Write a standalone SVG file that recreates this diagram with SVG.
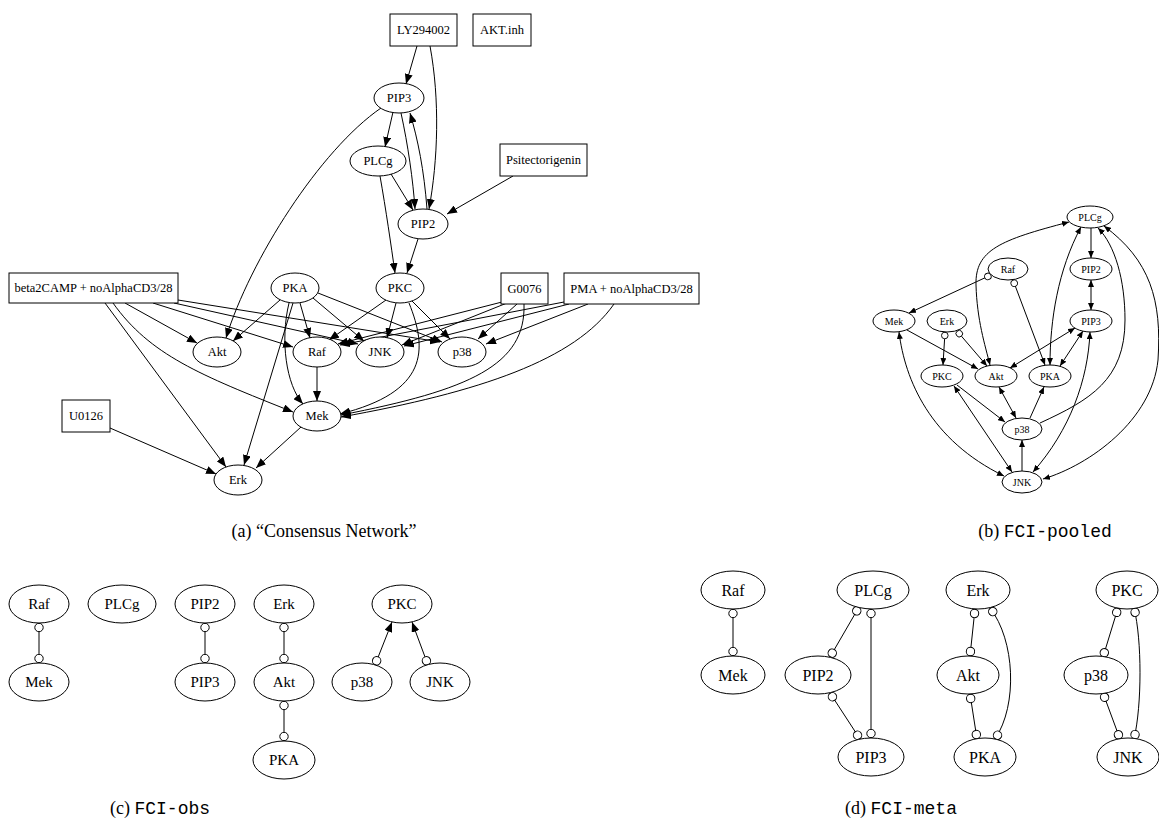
<svg xmlns="http://www.w3.org/2000/svg" width="1159" height="822" viewBox="0 0 1159 822">
<style>
.n ellipse, .n rect { fill: #fff; stroke: #000; stroke-width: 1; }
.e path { fill: none; stroke: #000; stroke-width: 1; }
text { font-family: "Liberation Serif", "Times New Roman", serif; fill: #000; }
.ta text { font-size: 12.5px; text-anchor: middle; dominant-baseline: central; }
.tb text { font-size: 10px; text-anchor: middle; dominant-baseline: central; }
.tc text { font-size: 15px; text-anchor: middle; dominant-baseline: central; }
.td text { font-size: 16px; text-anchor: middle; dominant-baseline: central; }
.cap { font-size: 18px; text-anchor: middle; }
.mono { font-family: "Liberation Mono", "Courier New", monospace; }
.ea path { marker-end: url(#arA); }
.eb path.d1 { marker-end: url(#arB); }
.eb path.d2 { marker-end: url(#arB); marker-start: url(#arB); }
.eb path.oa { marker-start: url(#ocB); marker-end: url(#arB); }
.oo path { marker-start: url(#ocC); marker-end: url(#ocC); }
.oa path { marker-start: url(#ocC); marker-end: url(#arC); }
</style>
<defs>
<marker id="arA" markerUnits="userSpaceOnUse" markerWidth="10" markerHeight="8" viewBox="0 0 10 8" refX="10" refY="4" orient="auto"><path d="M0,0 L10,4 L0,8 z" fill="#000"/></marker>
<marker id="arB" markerUnits="userSpaceOnUse" markerWidth="7" markerHeight="6" viewBox="0 0 7 6" refX="7" refY="3" orient="auto-start-reverse"><path d="M0,0 L7,3 L0,6 z" fill="#000"/></marker>
<marker id="ocB" markerUnits="userSpaceOnUse" markerWidth="8" markerHeight="8" viewBox="0 0 8 8" refX="7.5" refY="4" orient="auto-start-reverse"><circle cx="4" cy="4" r="3.3" fill="#fff" stroke="#000" stroke-width="0.9"/></marker>
<marker id="ocC" markerUnits="userSpaceOnUse" markerWidth="10" markerHeight="10" viewBox="0 0 10 10" refX="9.5" refY="5" orient="auto-start-reverse"><circle cx="5" cy="5" r="4.2" fill="#fff" stroke="#000" stroke-width="1"/></marker>
<marker id="arC" markerUnits="userSpaceOnUse" markerWidth="10" markerHeight="8" viewBox="0 0 10 8" refX="10" refY="4" orient="auto"><path d="M0,0 L10,4 L0,8 z" fill="#000"/></marker>
</defs>

<!-- Panel (a) connectors -->
<g id="edges-a" class="e ea">
<path d="M417 46 L406 84"/>
<path d="M430 46 C440 100 438 160 429 209"/>
<path d="M393 112 L385 147"/>
<path d="M401 113 C408 145 413 180 415 209"/>
<path d="M427 209 C424 170 418 140 410 113"/>
<path d="M391 174 L413 210"/>
<path d="M513 176 L447 214"/>
<path d="M381 108 C320 150 250 260 226 338"/>
<path d="M380 176 C386 210 391 245 395 273"/>
<path d="M418 239 L407 273"/>
<path d="M386 300 L329 340"/>
<path d="M396 303 L387 338"/>
<path d="M412 301 L450 339"/>
<path d="M409 303 C428 350 428 392 340 414"/>
<path d="M280 300 L233 341"/>
<path d="M300 303 L310 338"/>
<path d="M289 303 C280 340 286 385 303 404"/>
<path d="M293 303 L244 465"/>
<path d="M313 298 L364 341"/>
<path d="M318 293 L442 342"/>
<path d="M317 367 L317 401"/>
<path d="M301 427 L256 468"/>
<path d="M110 428 L216 474"/>
<path d="M105 303 L226 467"/>
<path d="M113 303 C150 355 200 375 293 412"/>
<path d="M125 303 L197 343"/>
<path d="M153 303 L293 347"/>
<path d="M174 303 L358 344"/>
<path d="M178 300 L440 342"/>
<path d="M502 302 L338 344"/>
<path d="M507 303 L402 345"/>
<path d="M517 304 L478 339"/>
<path d="M524 304 C526 365 470 390 341 415"/>
<path d="M564 302 L340 345"/>
<path d="M569 304 L404 346"/>
<path d="M588 304 L486 344"/>
<path d="M614 304 C575 360 480 392 341 417"/>
</g>

<!-- Panel (a) nodes -->
<g class="n ta">
<g id="a-LY294002"><rect x="390" y="14" width="67" height="32"/><text x="423.5" y="30">LY294002</text></g>
<g id="a-AKTinh"><rect x="473" y="14" width="58" height="32"/><text x="502" y="30">AKT.inh</text></g>
<g id="a-Psitectorigenin"><rect x="500" y="144" width="87" height="32"/><text x="543.5" y="160">Psitectorigenin</text></g>
<g id="a-beta2CAMP"><rect x="9" y="273" width="169" height="30"/><text x="93.5" y="288">beta2CAMP + noAlphaCD3/28</text></g>
<g id="a-G0076"><rect x="501" y="273" width="47" height="31"/><text x="524.5" y="288.5">G0076</text></g>
<g id="a-PMA"><rect x="564" y="273" width="135" height="31"/><text x="631.5" y="288.5">PMA + noAlphaCD3/28</text></g>
<g id="a-U0126"><rect x="62" y="400" width="48" height="32"/><text x="86" y="416">U0126</text></g>
<g id="a-PIP3"><ellipse cx="399" cy="98" rx="25" ry="15"/><text x="399" y="98">PIP3</text></g>
<g id="a-PLCg"><ellipse cx="378" cy="161" rx="28" ry="15"/><text x="378" y="161">PLCg</text></g>
<g id="a-PIP2"><ellipse cx="423" cy="224" rx="25" ry="15"/><text x="423" y="224">PIP2</text></g>
<g id="a-PKA"><ellipse cx="295" cy="288" rx="24" ry="15"/><text x="295" y="288">PKA</text></g>
<g id="a-PKC"><ellipse cx="400" cy="288" rx="24" ry="15"/><text x="400" y="288">PKC</text></g>
<g id="a-Akt"><ellipse cx="217" cy="352" rx="24" ry="15"/><text x="217" y="352">Akt</text></g>
<g id="a-Raf"><ellipse cx="317" cy="352" rx="24" ry="15"/><text x="317" y="352">Raf</text></g>
<g id="a-JNK"><ellipse cx="380" cy="352" rx="24" ry="15"/><text x="380" y="352">JNK</text></g>
<g id="a-p38"><ellipse cx="462" cy="352" rx="24" ry="15"/><text x="462" y="352">p38</text></g>
<g id="a-Mek"><ellipse cx="317" cy="416" rx="24" ry="15"/><text x="317" y="416">Mek</text></g>
<g id="a-Erk"><ellipse cx="238" cy="480" rx="24" ry="15"/><text x="238" y="480">Erk</text></g>
</g>

<!-- Panel (b) connectors -->
<g id="edges-b" class="e eb">
<path class="oa" d="M991 275 L909 313"/>
<path class="oa" d="M1013 280 L1045 365"/>
<path class="oa" d="M945 332 L943 365"/>
<path class="oa" d="M957 331 L987 366"/>
<path class="d1" d="M907 330 L978 369"/>
<path class="d2" d="M1069 222 C1000 240 975 250 976 285 C977 320 985 345 990 365"/>
<path class="d1" d="M1091 228 L1091 258"/>
<path class="d2" d="M1091 280 L1091 310"/>
<path class="d2" d="M1081 227 C1058 270 1050 320 1050 365"/>
<path class="d2" d="M1075 328 L1010 368"/>
<path class="d2" d="M1083 331 L1060 366"/>
<path class="d2" d="M1104 226 C1150 260 1162 300 1158 360 C1152 420 1090 465 1043 479"/>
<path class="d1" d="M1040 423 C1090 400 1125 380 1125 320 C1125 280 1115 245 1098 228"/>
<path class="d2" d="M1090 332 C1088 380 1070 430 1033 472"/>
<path class="d2" d="M899 332 C905 380 930 440 1004 476"/>
<path class="d2" d="M954 386 L1012 472"/>
<path class="d1" d="M957 385 L1005 422"/>
<path class="d2" d="M999 387 L1016 418"/>
<path class="d1" d="M1030 418 L1044 387"/>
<path class="d1" d="M1022 471 L1022 440"/>
</g>

<!-- Panel (b) nodes -->
<g class="n tb">
<g id="b-PLCg"><ellipse cx="1090" cy="217" rx="23" ry="11"/><text x="1090" y="217">PLCg</text></g>
<g id="b-PIP2"><ellipse cx="1091" cy="269" rx="21" ry="11"/><text x="1091" y="269">PIP2</text></g>
<g id="b-Raf"><ellipse cx="1008" cy="269" rx="20" ry="11"/><text x="1008" y="269">Raf</text></g>
<g id="b-PIP3"><ellipse cx="1091" cy="321" rx="21" ry="11"/><text x="1091" y="321">PIP3</text></g>
<g id="b-Mek"><ellipse cx="894" cy="321" rx="21" ry="11"/><text x="894" y="321">Mek</text></g>
<g id="b-Erk"><ellipse cx="947" cy="321" rx="20" ry="11"/><text x="947" y="321">Erk</text></g>
<g id="b-PKC"><ellipse cx="942" cy="376" rx="21" ry="11"/><text x="942" y="376">PKC</text></g>
<g id="b-Akt"><ellipse cx="996" cy="376" rx="21" ry="11"/><text x="996" y="376">Akt</text></g>
<g id="b-PKA"><ellipse cx="1050" cy="376" rx="21" ry="11"/><text x="1050" y="376">PKA</text></g>
<g id="b-p38"><ellipse cx="1022" cy="429" rx="20" ry="11"/><text x="1022" y="429">p38</text></g>
<g id="b-JNK"><ellipse cx="1022" cy="482" rx="20" ry="11"/><text x="1022" y="482">JNK</text></g>
</g>

<!-- Panel (c) connectors -->
<g id="edges-c" class="e">
<g class="oo">
<path d="M39 623 L39 663"/>
<path d="M205 623 L205 663"/>
<path d="M284 623 L284 663"/>
<path d="M284 701 L284 741"/>
</g>
<g class="oa">
<path d="M375 665 L392 622"/>
<path d="M428 665 L412 622"/>
</g>
</g>

<!-- Panel (c) nodes -->
<g class="n tc">
<g id="c-Raf"><ellipse cx="39" cy="604" rx="30" ry="19"/><text x="39" y="604">Raf</text></g>
<g id="c-Mek"><ellipse cx="39" cy="682" rx="30" ry="19"/><text x="39" y="682">Mek</text></g>
<g id="c-PLCg"><ellipse cx="122" cy="604" rx="34" ry="19"/><text x="122" y="604">PLCg</text></g>
<g id="c-PIP2"><ellipse cx="205" cy="604" rx="30" ry="19"/><text x="205" y="604">PIP2</text></g>
<g id="c-PIP3"><ellipse cx="205" cy="682" rx="30" ry="19"/><text x="205" y="682">PIP3</text></g>
<g id="c-Erk"><ellipse cx="284" cy="604" rx="30" ry="19"/><text x="284" y="604">Erk</text></g>
<g id="c-Akt"><ellipse cx="284" cy="682" rx="30" ry="19"/><text x="284" y="682">Akt</text></g>
<g id="c-PKA"><ellipse cx="284" cy="760" rx="31" ry="19"/><text x="284" y="760">PKA</text></g>
<g id="c-PKC"><ellipse cx="402" cy="604" rx="30" ry="19"/><text x="402" y="604">PKC</text></g>
<g id="c-p38"><ellipse cx="362" cy="682" rx="30" ry="19"/><text x="362" y="682">p38</text></g>
<g id="c-JNK"><ellipse cx="440" cy="682" rx="30" ry="19"/><text x="440" y="682">JNK</text></g>
</g>

<!-- Panel (d) connectors -->
<g id="edges-d" class="e oo">
<path d="M733 609 L733 656"/>
<path d="M859 607 L830 657"/>
<path d="M871 609 L871 738"/>
<path d="M830 693 L860 739"/>
<path d="M975 609 L970 656"/>
<path d="M970 694 L977 739"/>
<path d="M990 608 C1015 640 1018 705 995 739"/>
<path d="M1118 608 L1103 657"/>
<path d="M1103 693 L1120 739"/>
<path d="M1134 608 C1142 640 1142 705 1134 739"/>
</g>

<!-- Panel (d) nodes -->
<g class="n td">
<g id="d-Raf"><ellipse cx="733" cy="590" rx="32" ry="19"/><text x="733" y="590">Raf</text></g>
<g id="d-Mek"><ellipse cx="733" cy="675" rx="32" ry="19"/><text x="733" y="675">Mek</text></g>
<g id="d-PLCg"><ellipse cx="873" cy="590" rx="36" ry="19"/><text x="873" y="590">PLCg</text></g>
<g id="d-PIP2"><ellipse cx="818" cy="675" rx="33" ry="19"/><text x="818" y="675">PIP2</text></g>
<g id="d-PIP3"><ellipse cx="871" cy="757" rx="33" ry="19"/><text x="871" y="757">PIP3</text></g>
<g id="d-Erk"><ellipse cx="978" cy="590" rx="32" ry="19"/><text x="978" y="590">Erk</text></g>
<g id="d-Akt"><ellipse cx="968" cy="675" rx="31" ry="19"/><text x="968" y="675">Akt</text></g>
<g id="d-PKA"><ellipse cx="985" cy="757" rx="31" ry="19"/><text x="985" y="757">PKA</text></g>
<g id="d-PKC"><ellipse cx="1127" cy="590" rx="31" ry="19"/><text x="1127" y="590">PKC</text></g>
<g id="d-p38"><ellipse cx="1096" cy="675" rx="32" ry="19"/><text x="1096" y="675">p38</text></g>
<g id="d-JNK"><ellipse cx="1128" cy="757" rx="31" ry="19"/><text x="1128" y="757">JNK</text></g>
</g>

<!-- Captions -->
<g id="captions">
<text class="cap" x="324" y="537" font-size="19">(a) “Consensus Network”</text>
<text class="cap" x="1045" y="537">(b) <tspan class="mono">FCI-pooled</tspan></text>
<text class="cap" x="160" y="814">(c) <tspan class="mono">FCI-obs</tspan></text>
<text class="cap" x="901" y="814">(d) <tspan class="mono">FCI-meta</tspan></text>
</g>
</svg>
